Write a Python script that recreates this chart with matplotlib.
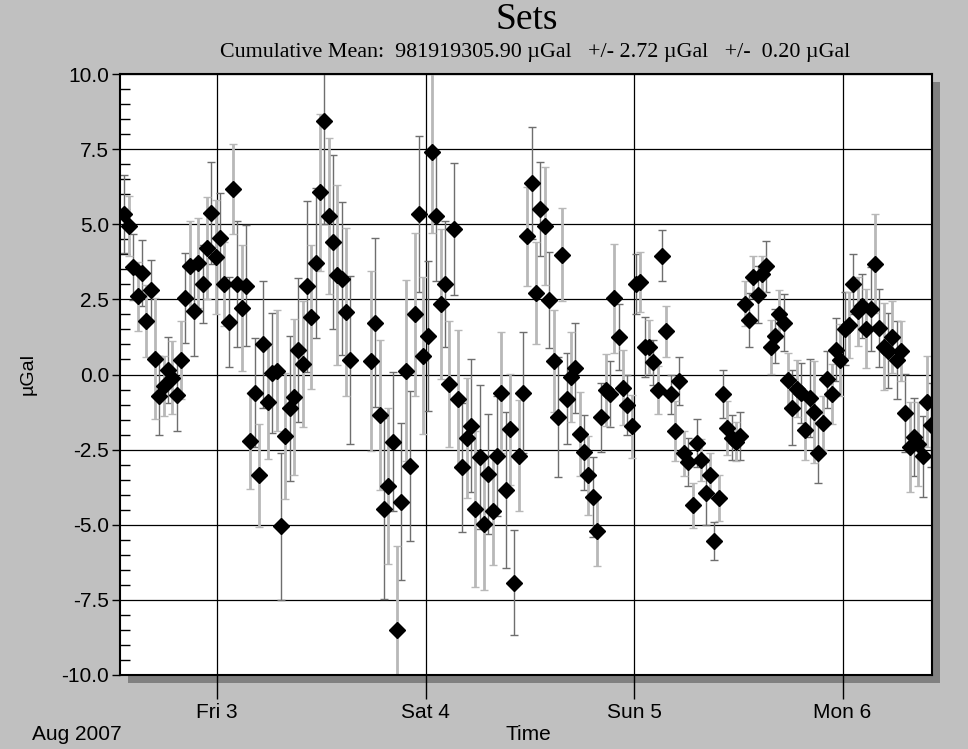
"""Gravity set means with error bars, Aug 2007."""

import matplotlib

matplotlib.use("Agg")
import matplotlib.pyplot as plt
import numpy as np
import pandas as pd
from matplotlib.ticker import FormatStrFormatter, MultipleLocator

# sets are taken every 30 min, in two runs
run1_start = "2007-08-02 13:21"
run1_values = [
    5.33, 4.93, 3.57, 2.61, 3.37, 1.78, 2.80, 0.53, -0.70, -0.38,
    0.16, -0.10, -0.69, 0.47, 2.54, 3.61, 2.11, 3.71, 3.02, 4.20,
    5.38, 3.92, 4.55, 3.00, 1.74, 6.17, 3.00, 2.22, 2.96, -2.20,
    -0.60, -3.36, 1.00, -0.91, 0.04, 0.13, -5.05, -2.04, -1.13, -0.74,
    0.82, 0.36, 2.93, 1.92, 3.71, 6.06, 8.42, 5.28, 4.42, 3.32,
    3.19, 2.09, 0.48,
]
run1_errors = [
    1.30, 1.00, 1.10, 1.15, 1.10, 1.20, 1.00, 2.00, 1.30, 1.00,
    1.10, 1.20, 1.20, 1.30, 1.50, 1.50, 1.50, 1.50, 1.30, 1.70,
    1.70, 1.90, 1.50, 1.40, 1.50, 1.50, 2.10, 2.10, 2.00, 1.60,
    1.80, 1.70, 2.10, 1.90, 2.00, 2.00, 2.45, 2.10, 2.40, 2.60,
    2.40, 2.10, 2.85, 2.40, 2.50, 2.60, 3.40, 2.60, 2.90, 3.00,
    2.55, 2.80, 2.80,
]

run2_start = "2007-08-03 17:44"
run2_values = [
    0.45, 1.73, -1.36, -4.46, -3.70, -2.23, -8.50, -4.23, 0.13, -3.04,
    2.00, 5.33, 0.63, 1.27, 7.40, 5.26, 2.34, 3.00, -0.32, 4.84,
    -0.81, -3.09, -2.10, -1.70, -4.47, -2.74, -4.98, -3.32, -4.53, -2.70,
    -0.60, -3.84, -1.83, -6.93, -2.70, -0.60, 4.60, 6.37, 2.70, 5.51,
    4.94, 2.48, 0.45, -1.41, 3.99, -0.80, -0.09, 0.23, -1.98, -2.59,
    -3.36, -4.07, -5.21, -1.43, -0.51, -0.65, 2.53, 1.26, -0.44, -1.02,
    -1.73, 3.01, 3.09, 0.92, 0.92, 0.40, -0.51, 3.96, 1.44, -0.65,
    -1.88, -0.22, -2.62, -2.90, -4.35, -2.27, -2.85, -3.96, -3.36, -5.54,
    -4.11, -0.65, -1.78, -2.10, -2.23, -2.04, 2.35, 1.82, 3.26, 2.66,
    3.33, 3.60, 0.92, 1.27, 2.01, 1.73, -0.18, -1.10, -0.48, -0.61,
    -1.84, -0.78, -1.26, -2.60, -1.62, -0.16, -0.64, 0.82, 0.49, 1.53,
    1.66, 3.00, 2.11, 2.28, 1.53, 2.18, 3.68, 1.54, 0.92, 0.79,
    1.26, 0.48, 0.79, -1.28, -2.40, -2.07, -2.32, -2.72, -0.90, -1.67,
]
run2_errors = [
    3.00, 2.80, 2.50, 3.00, 2.60, 2.30, 2.80, 2.60, 3.00, 2.50,
    2.70, 2.60, 2.60, 2.50, 2.70, 2.15, 2.50, 2.10, 2.10, 2.20,
    2.30, 2.15, 2.00, 2.20, 2.60, 2.40, 2.20, 2.00, 1.80, 2.00,
    2.00, 2.60, 1.85, 1.75, 1.85, 2.00, 1.65, 1.85, 1.70, 1.55,
    1.95, 1.60, 1.70, 2.00, 1.55, 1.50, 1.50, 1.50, 1.40, 1.25,
    1.30, 1.33, 1.15, 1.15, 1.20, 1.10, 1.80, 1.10, 1.25, 1.00,
    1.05, 1.00, 1.00, 1.00, 0.90, 0.75, 0.80, 0.85, 0.85, 0.65,
    1.00, 0.80, 0.75, 0.80, 0.75, 0.80, 0.70, 1.05, 0.75, 0.62,
    0.75, 0.80, 0.90, 0.75, 0.65, 0.80, 0.75, 0.90, 0.70, 0.95,
    0.60, 0.85, 0.90, 0.90, 0.80, 0.95, 0.90, 1.25, 0.95, 1.00,
    1.00, 1.30, 1.70, 1.00, 0.90, 0.95, 1.00, 1.05, 1.20, 1.20,
    1.10, 1.00, 1.15, 1.05, 1.30, 1.40, 1.65, 1.30, 1.45, 1.25,
    1.20, 1.30, 1.00, 1.30, 1.50, 1.30, 1.40, 1.35, 1.50, 1.40,
]

day_ticks = ["2007-08-03", "2007-08-04", "2007-08-05", "2007-08-06"]
day_labels = ["Fri 3", "Sat 4", "Sun 5", "Mon 6"]
x_range = ("2007-08-02 12:50", "2007-08-06 10:18")

title = "Sets"
subtitle = "Cumulative Mean:  981919305.90 \u00b5Gal   +/- 2.72 \u00b5Gal   +/-  0.20 \u00b5Gal"

SERIF = ["Liberation Serif", "DejaVu Serif"]
SANS = ["Liberation Sans", "DejaVu Sans"]
SANS_SIZE = 15

times = np.concatenate([
    pd.date_range(run1_start, periods=len(run1_values), freq="30min").to_numpy(),
    pd.date_range(run2_start, periods=len(run2_values), freq="30min").to_numpy(),
])
values = np.array(run1_values + run2_values)
errors = np.array(run1_errors + run2_errors)

W, H, DPI = 968, 749, 100
fig = plt.figure(figsize=(W / DPI, H / DPI), dpi=DPI, facecolor="#c0c0c0")
ax_box = [120 / W, 1 - 675 / H, (932 - 120) / W, (675 - 74) / H]

# drop shadow behind the plot frame
shadow = fig.add_axes([ax_box[0] + 8 / W, ax_box[1] - 8 / H, ax_box[2], ax_box[3]])
shadow.set_facecolor("#808080")
shadow.set_xticks([])
shadow.set_yticks([])
for spine in shadow.spines.values():
    spine.set_visible(False)
shadow.set_zorder(0)

ax = fig.add_axes(ax_box)
ax.set_zorder(1)
ax.set_facecolor("white")

for i, (colour, lw) in enumerate([("#6e6e6e", 1.0), ("#b8b8b8", 2.0)]):
    sl = slice(i, None, 2)
    ax.errorbar(
        times[sl], values[sl], yerr=errors[sl], fmt="none",
        ecolor=colour, elinewidth=lw, capsize=3, capthick=1.0, zorder=2,
    )
ax.plot(times, values, "D", color="black", markersize=8, zorder=3, linestyle="none")

ax.set_xlim(pd.Timestamp(x_range[0]), pd.Timestamp(x_range[1]))
ax.set_ylim(-10, 10)

ax.set_xticks([pd.Timestamp(d) for d in day_ticks])
ax.set_xticklabels(day_labels, family=SANS, fontsize=SANS_SIZE)
ax.tick_params(axis="x", direction="out", length=17, width=1, pad=3, color="black")

ax.yaxis.set_major_locator(MultipleLocator(2.5))
ax.yaxis.set_minor_locator(MultipleLocator(0.5))
ax.yaxis.set_major_formatter(FormatStrFormatter("%.1f"))
ax.tick_params(axis="y", which="major", direction="out", length=6, width=1, pad=2,
               labelsize=SANS_SIZE)
ax.tick_params(axis="y", which="minor", direction="in", length=7, width=1)
for label in ax.get_yticklabels():
    label.set_family(SANS)

ax.grid(True, which="major", color="black", linewidth=0.9)
ax.set_axisbelow(True)
for spine in ax.spines.values():
    spine.set_linewidth(1.5)
    spine.set_color("black")

fig.text(527 / W, 1 - 20 / H, title, ha="center", va="center",
         family=SERIF, fontsize=27)
fig.text(535 / W, 1 - 52 / H, subtitle, ha="center", va="center",
         family=SERIF, fontsize=15.8)
fig.text(28 / W, 1 - 374 / H, "\u00b5Gal", ha="center", va="center",
         rotation=90, family=SANS, fontsize=SANS_SIZE - 1)
fig.text(77 / W, 1 - 735 / H, "Aug 2007", ha="center", va="center",
         family=SANS, fontsize=SANS_SIZE)
fig.text(528 / W, 1 - 735 / H, "Time", ha="center", va="center",
         family=SANS, fontsize=SANS_SIZE)

fig.savefig("out.png", dpi=DPI, facecolor=fig.get_facecolor())
